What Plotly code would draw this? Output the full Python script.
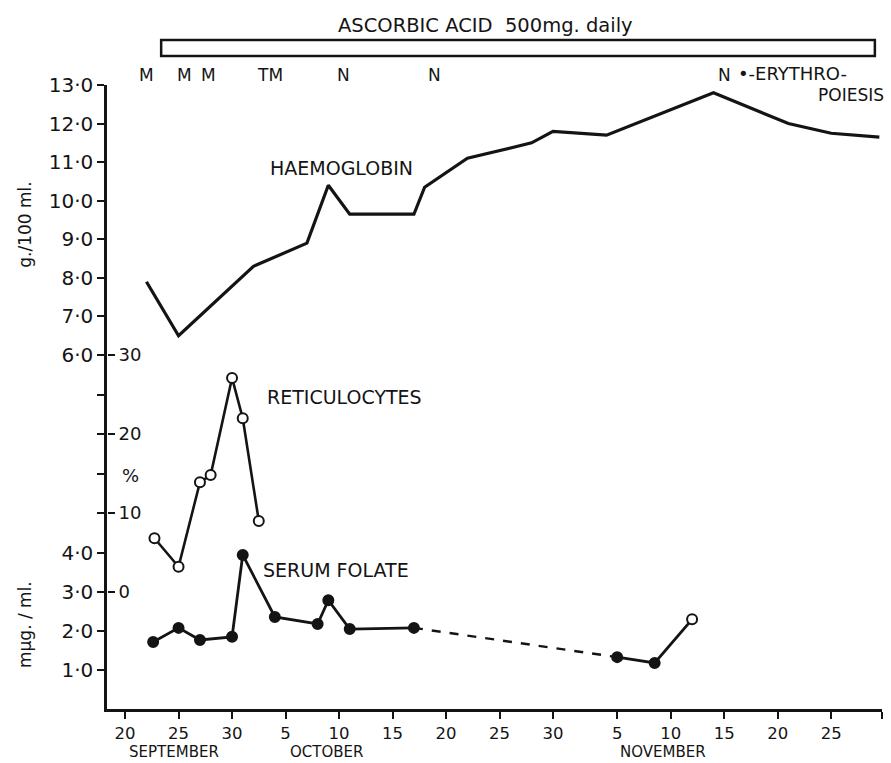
import plotly.graph_objects as go

# ---------------- data ----------------
haem_dates = ["1963-09-22", "1963-09-25", "1963-10-02", "1963-10-07", "1963-10-09",
              "1963-10-11", "1963-10-17", "1963-10-18", "1963-10-22", "1963-10-28",
              "1963-10-30", "1963-11-04", "1963-11-14", "1963-11-21", "1963-11-25",
              "1963-11-29 12:00"]
haem_values = [7.9, 6.5, 8.3, 8.9, 10.4, 9.65, 9.65, 10.35, 11.1, 11.5,
               11.8, 11.7, 12.8, 12.0, 11.75, 11.65]

retic_dates = ["1963-09-22 18:00", "1963-09-25", "1963-09-27", "1963-09-28",
               "1963-09-30", "1963-10-01", "1963-10-02 12:00"]
retic_values = [6.8, 3.2, 13.9, 14.8, 27.1, 22.0, 9.0]

folate_dates = ["1963-09-22 15:00", "1963-09-25", "1963-09-27", "1963-09-30",
                "1963-10-01", "1963-10-04", "1963-10-08", "1963-10-09",
                "1963-10-11", "1963-10-17", "1963-11-05", "1963-11-08 12:00",
                "1963-11-12"]
folate_values = [1.72, 2.08, 1.77, 1.85, 3.95, 2.36, 2.18, 2.79, 2.05, 2.08,
                 1.33, 1.18, 2.3]
folate_open = [False] * 12 + [True]
folate_gap_after = 9  # dashed link between index 9 and 10

marrow_dates = ["1963-09-22", "1963-09-25 14:00", "1963-09-27 20:00", "1963-10-03 14:00",
                "1963-10-10 10:00", "1963-10-18 22:00", "1963-11-15"]
marrow_labels = ["M", "M", "M", "TM", "N", "N", "N"]

ascorbic_start = "1963-09-23 09:00"
ascorbic_end = "1963-11-29 02:00"
ascorbic_label = "ASCORBIC ACID  500mg. daily"

x_start = "1963-09-18 07:30"
x_end = "1963-11-29 18:00"
x_tick_dates = ["1963-09-20", "1963-09-25", "1963-09-30", "1963-10-05", "1963-10-10",
                "1963-10-15", "1963-10-20", "1963-10-25", "1963-10-30", "1963-11-05",
                "1963-11-10", "1963-11-15", "1963-11-20", "1963-11-25"]
x_tick_text = ["20", "25", "30", "5", "10", "15", "20", "25", "30", "5", "10", "15", "20", "25"]
months = ["SEPTEMBER", "OCTOBER", "NOVEMBER"]

haem_ticks = [6, 7, 8, 9, 10, 11, 12, 13]
haem_ticktext = ["6·0", "7·0", "8·0", "9·0", "10·0", "11·0", "12·0", "13·0"]
retic_ticks = [0, 10, 20, 30]
retic_ticktext = ["0", "10", "20", "30"]
retic_left_ticks = [10, 15, 20, 25, 30]
folate_ticks = [1, 2, 3, 4]
folate_ticktext = ["1·0", "2·0", "3·0", "4·0"]

# ---------------- figure ----------------
INK = "#141414"
FONT = "DejaVu Sans"
fig = go.Figure()

fig.add_trace(go.Scatter(x=haem_dates, y=haem_values, mode="lines",
                         line=dict(color=INK, width=3.2), yaxis="y", cliponaxis=False))

fig.add_trace(go.Scatter(x=retic_dates, y=retic_values, mode="lines+markers",
                         line=dict(color=INK, width=2.6),
                         marker=dict(symbol="circle", size=10, color="white",
                                     line=dict(color=INK, width=2)),
                         yaxis="y2", cliponaxis=False))

g = folate_gap_after
fig.add_trace(go.Scatter(x=folate_dates[g:g + 2], y=folate_values[g:g + 2], mode="lines",
                         line=dict(color=INK, width=2.4, dash="dash"),
                         yaxis="y3", cliponaxis=False))
for seg in (slice(0, g + 1), slice(g + 1, len(folate_dates))):
    xs = folate_dates[seg]
    ys = folate_values[seg]
    op = folate_open[seg]
    fig.add_trace(go.Scatter(x=xs, y=ys, mode="lines+markers",
                             line=dict(color=INK, width=2.8),
                             marker=dict(symbol="circle", size=10,
                                         color=["white" if o else INK for o in op],
                                         line=dict(color=INK, width=2)),
                             yaxis="y3", cliponaxis=False))

# empty trace to host the left-pointing retic ticks / axis line
fig.add_trace(go.Scatter(x=[], y=[], yaxis="y4", showlegend=False))

# ascorbic bar
fig.add_shape(type="rect", xref="x", yref="paper", x0=ascorbic_start, x1=ascorbic_end,
              y0=1.0465, y1=1.072, line=dict(color=INK, width=2.5), fillcolor="white",
              layer="above")

ann = []
def txt(x, y, t, size=16, xref="paper", yref="paper", xanchor="center", angle=0):
    ann.append(dict(x=x, y=y, xref=xref, yref=yref, text=t, showarrow=False,
                    xanchor=xanchor, yanchor="middle", textangle=angle,
                    font=dict(family=FONT, size=size, color=INK)))

txt(0.489, 1.096, ascorbic_label, 19.5)
for d, l in zip(marrow_dates, marrow_labels):
    txt(d, 1.016, l, 17, xref="x")
txt(0.811, 1.019, "•-ERYTHRO-", 18, xanchor="left")
txt(1.005, 0.984, "POIESIS", 17, xanchor="right")
txt(0.302, 0.867, "HAEMOGLOBIN", 19)
txt(0.307, 0.500, "RETICULOCYTES", 19)
txt(0.2955, 0.2228, "SERUM FOLATE", 19)
txt(0.0297, 0.375, "%", 18)
txt(-0.1058, 0.776, "g./100 ml.", 17, angle=-90)
txt(-0.1058, 0.1346, "mμg. / ml.", 17, angle=-90)
for m, xp in zip(months, [0.0865, 0.2826, 0.7174]):
    txt(xp, -0.0697, m, 15)

axis_common = dict(linecolor=INK, linewidth=2.5, ticks="outside",
                   ticklen=7, tickwidth=2, tickcolor=INK, showgrid=False, zeroline=False,
                   automargin=False)

def tf(s):
    return dict(family=FONT, size=s, color=INK)

fig.update_layout(
    width=891, height=763,
    margin=dict(l=107, r=9, t=85, b=54),
    paper_bgcolor="white", plot_bgcolor="rgba(0,0,0,0)",
    showlegend=False,
    annotations=ann,
    xaxis=dict(type="date", range=[x_start, x_end],
               tickvals=x_tick_dates + [x_end], ticktext=x_tick_text + [""], anchor="y3",
               tickfont=tf(16.5), showline=True, **axis_common),
    yaxis=dict(domain=[0.5673, 1.0], range=[6, 13], tickvals=haem_ticks,
               ticktext=haem_ticktext, anchor="x", tickfont=tf(20), showline=True,
               **axis_common),
    yaxis2=dict(domain=[0.1875, 0.5673], range=[0, 30], tickvals=retic_ticks,
                ticktext=retic_ticktext, anchor="free", position=0, side="right",
                tickfont=tf(18), showline=False, **axis_common),
    yaxis4=dict(overlaying="y2", range=[0, 30], tickvals=retic_left_ticks,
                showticklabels=False, anchor="x", side="left",
                showline=True, **axis_common),
    yaxis3=dict(domain=[0.0, 0.25], range=[0, 4], tickvals=folate_ticks,
                ticktext=folate_ticktext, anchor="x", tickfont=tf(20), showline=True,
                **axis_common),
)

fig.write_html("out.html", config={"displayModeBar": False},
               post_script="document.body.style.margin='0';document.body.style.overflow='hidden';")
